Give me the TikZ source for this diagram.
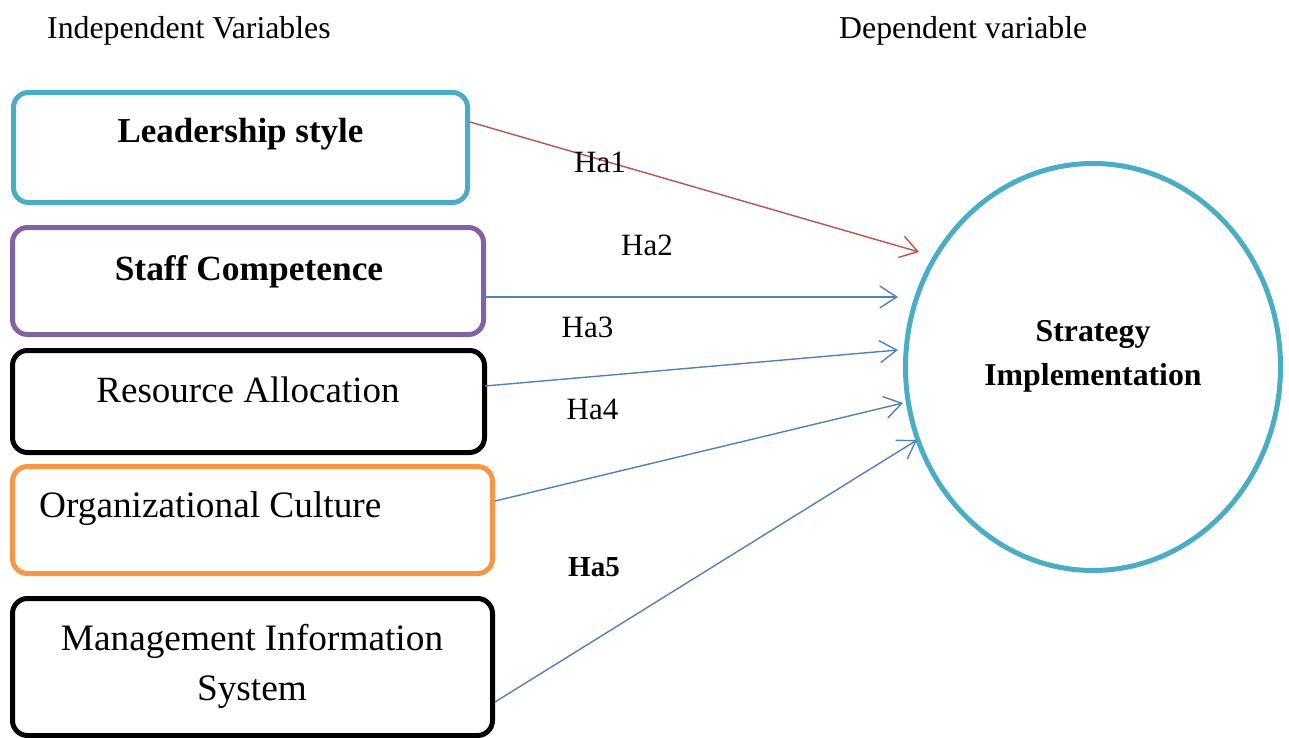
\documentclass[tikz,border=0pt]{standalone}
\usepackage{fontspec}
\setmainfont{Liberation Serif}
\usetikzlibrary{arrows.meta,shapes.geometric,calc}
\definecolor{cyanbox}{HTML}{4BACC6}
\definecolor{purplebox}{HTML}{8064A2}
\definecolor{orangebox}{HTML}{F79646}
\definecolor{redarrow}{HTML}{C0504D}
\definecolor{bluearrow}{HTML}{4F81BD}
\tikzset{
  box/.style={draw, line width=5pt, rounded corners=15pt, inner sep=0pt, fill=white},
  conn/.style={line width=1.4pt, -{Straight Barb[length=17pt,width=22pt,line width=1.4pt]}},
  hlabel/.style={anchor=base, inner sep=0pt, font=\fontsize{31}{36}\selectfont},
  head/.style={anchor=base west, inner sep=0pt, font=\fontsize{31.8}{36}\selectfont},
}
\begin{document}
\begin{tikzpicture}[x=1pt,y=-1pt]
\useasboundingbox[fill=white] (0,0) rectangle (1289,738);
% headers
\node[head] (hind) at (47,38.5) {Independent Variables};
\node[head] (hdep) at (839,38.5) {Dependent variable};
% boxes
\node[box, draw=cyanbox, minimum width=454pt, minimum height=110pt] (b1) at (240.5,147.5) {};
\node[box, draw=purplebox, minimum width=471pt, minimum height=107pt] (b2) at (248,281) {};
\node[box, draw=black, minimum width=472pt, minimum height=102pt] (b3) at (248.5,401.5) {};
\node[box, draw=orangebox, minimum width=480pt, minimum height=107pt] (b4) at (252.5,520) {};
\node[box, draw=black, minimum width=480pt, minimum height=137pt] (b5) at (252.5,667) {};
% box texts
\node[anchor=base, inner sep=0pt, font=\fontsize{35}{40}\selectfont\bfseries] (t1) at (240.5,143) {Leadership style};
\node[anchor=base, inner sep=0pt, font=\fontsize{35.4}{40}\selectfont\bfseries] (t2) at (249,280) {Staff Competence};
\node[anchor=base, inner sep=0pt, font=\fontsize{37}{42}\selectfont] (t3) at (248,402) {Resource Allocation};
\node[anchor=base west, inner sep=0pt, font=\fontsize{37.3}{42}\selectfont] (t4) at (39,517) {Organizational Culture};
\node[anchor=base, inner sep=0pt, align=center, font=\fontsize{37.3}{50}\selectfont] (t5) at (252,700) {Management Information\\System};
% ellipse
\node[draw=cyanbox, line width=5pt, ellipse, minimum width=375pt, minimum height=407pt, inner sep=0pt] (e) at (1093,367) {};
\node[anchor=base, inner sep=0pt, align=center, font=\fontsize{31.8}{44}\selectfont\bfseries] (te) at (1093,385) {Strategy\\Implementation};
% connectors
\draw[conn, draw=redarrow] ($(b1.east)+(0,-25.5)$) -- ($(e.center)+(-174,-115)$);
\draw[conn, draw=bluearrow] ($(b2.east)+(-3,16)$) -- ($(e.center)+(-195,-70)$);
\draw[conn, draw=bluearrow] ($(b3.east)+(-2,-15.5)$) -- ($(e.center)+(-195,-17)$);
\draw[conn, draw=bluearrow] ($(b4.east)+(0,-19)$) -- ($(e.center)+(-190,36)$);
\draw[conn, draw=bluearrow] ($(b5.east)+(0,35)$) -- ($(e.center)+(-176,73)$);
% hypothesis labels
\node[hlabel] (ha1) at (600,173) {Ha1};
\node[hlabel] (ha2) at (647,255) {Ha2};
\node[hlabel] (ha3) at (587.5,337) {Ha3};
\node[hlabel] (ha4) at (592.5,419) {Ha4};
\node[hlabel, font=\fontsize{29}{34}\selectfont\bfseries] (ha5) at (594,576) {Ha5};
\end{tikzpicture}
\end{document}
